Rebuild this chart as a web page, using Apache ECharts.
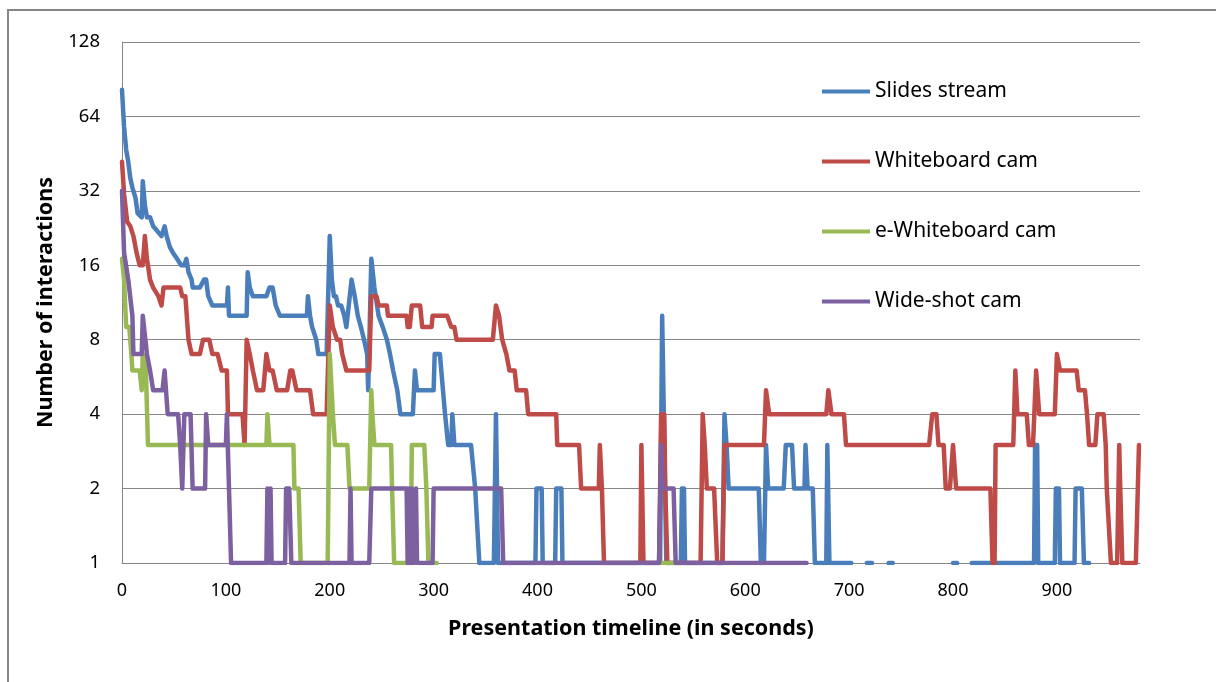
<!DOCTYPE html>
<html><head><meta charset="utf-8">
<script src="https://cdn.jsdelivr.net/npm/echarts@6/dist/echarts.min.js"></script>
<style>html,body{margin:0;padding:0;background:#fff}#c{width:1216px;height:682px}</style>
</head><body><div id="c"></div>
<script>
// Series names (legend order)
const seriesNames = ['Slides stream', 'Whiteboard cam', 'e-Whiteboard cam', 'Wide-shot cam'];
const seriesColors = ['#4A7EBB', '#BE4B48', '#98B954', '#7D60A0'];
// x-axis ticks (seconds) and y-axis ticks (log2)
const xTicks = [0, 100, 200, 300, 400, 500, 600, 700, 800, 900];
const yTicks = [1, 2, 4, 8, 16, 32, 64, 128];

// [time in seconds, number of interactions]; null = no interactions (gap on log scale)
const slidesStream = [
[0,82],[2,58],[4,47],[6,42],[8,36],[10,33],[13,30],[15,26],[19,25],[20,35],[22,28],[24,25],[27,25],[30,23],[34,22],[38,21],[41,23],[43,21],[46,19],[49,18],[53,17],[57,16],[60,16],[62,17],[64,15],[67,14],[68,13],[75,13],[79,14],[81,14],[83,12],[87,11],[101,11],[102,13],[103,10],[120,10],[121,15],[123,13],[126,12],[139,12],[142,13],[145,13],[148,11],[152,10],[178,10],[179,12],[181,10],[183,9],[187,8],[189,7],[197,7],[200,21],[202,14],[204,12],[206,12],[208,11],[211,11],[214,10],[216,9],[221,14],[224,12],[227,10],[230,9],[233,8],[236,7],[237,5],[240,17],[243,13],[247,10],[251,9],[255,8],[258,7],[261,6],[265,5],[268,4],[280,4],[282,6],[284,5],[300,5],[301,7],[306,7],[309,5],[311,4],[314,3],[317,3],[318,4],[320,3],[336,3],[340,2],[344,1],[358,1],[360,4],[362,1],[398,1],[399,2],[404,2],[405,1],[417,1],[418,2],[423,2],[424,1],[518,1],[520,10],[524,1],[538,1],[539,2],[541,2],[542,1],[578,1],[580,4],[582,3],[584,2],[613,2],[615,1],[618,1],[620,3],[622,2],[637,2],[639,3],[645,3],[647,2],[657,2],[658,3],[660,2],[665,2],[667,1],[678,1],[679,3],[681,1],[702,1],[703,null],[717,1],[722,1],[723,null],[738,1],[742,1],[743,null],[800,1],[804,1],[805,null],[818,1],[878,1],[879,3],[881,3],[882,1],[898,1],[899,2],[902,2],[903,1],[917,1],[918,2],[924,2],[926,1],[931,1]
];
const whiteboardCam = [
[0,42],[2,31],[5,24],[8,23],[11,21],[14,18],[17,16],[20,16],[22,21],[24,17],[25,16],[27,14],[30,13],[35,12],[38,11],[40,13],[43,13],[56,13],[58,12],[61,12],[64,8],[67,7],[75,7],[78,8],[84,8],[87,7],[92,7],[96,6],[101,6],[102,4],[116,4],[118,3],[120,8],[123,7],[126,6],[130,5],[136,5],[139,7],[142,6],[145,6],[149,5],[159,5],[162,6],[164,6],[168,5],[181,5],[184,4],[197,4],[200,11],[203,9],[207,8],[210,8],[212,7],[216,6],[238,6],[240,12],[245,12],[247,11],[255,11],[256,10],[274,10],[275,9],[277,9],[279,11],[287,11],[289,9],[298,9],[299,10],[313,10],[317,9],[320,9],[322,8],[357,8],[360,11],[363,10],[366,8],[370,7],[373,6],[378,6],[380,5],[389,5],[391,4],[418,4],[419,3],[440,3],[442,2],[459,2],[460,3],[462,2],[464,1],[499,1],[500,3],[502,1],[517,1],[519,4],[522,4],[523,2],[525,1],[557,1],[559,4],[561,3],[563,2],[570,2],[573,1],[578,1],[580,3],[618,3],[620,5],[623,4],[678,4],[680,5],[683,4],[695,4],[697,3],[777,3],[780,4],[784,4],[786,3],[791,3],[793,2],[797,2],[800,3],[803,2],[836,2],[838,1],[840,1],[841,3],[858,3],[860,6],[862,4],[871,4],[873,3],[877,3],[880,6],[883,4],[898,4],[900,7],[903,6],[919,6],[921,5],[927,5],[929,4],[931,3],[937,3],[939,4],[945,4],[947,3],[948,2],[952,1],[958,1],[960,3],[961,2],[963,1],[976,1],[979,3]
];
const eWhiteboardCam = [
[0,17],[2,14],[4,9],[7,9],[9,7],[10,6],[17,6],[19,5],[20,7],[23,6],[25,3],[139,3],[140,4],[142,3],[165,3],[166,2],[170,2],[172,1],[198,1],[200,7],[203,4],[205,3],[217,3],[219,2],[238,2],[240,5],[241,4],[243,3],[259,3],[260,2],[262,1],[278,1],[279,3],[291,3],[293,2],[295,1],[303,1],[304,null],[520,1],[530,1]
];
const wideShotCam = [
[0,32],[2,18],[6,14],[10,10],[11,7],[13,7],[19,7],[20,10],[24,7],[27,6],[30,5],[34,5],[39,5],[41,6],[44,4],[54,4],[56,3],[58,2],[60,4],[66,4],[68,2],[80,2],[81,4],[83,3],[100,3],[101,4],[103,2],[105,1],[139,1],[140,2],[141,1],[143,2],[144,1],[157,1],[158,2],[161,2],[163,1],[219,1],[220,2],[221,1],[238,1],[240,2],[274,2],[275,1],[276,2],[278,1],[279,2],[281,1],[283,2],[284,1],[299,1],[300,2],[365,2],[367,1],[517,1],[519,3],[521,2],[531,2],[533,1],[659,1]
];

const allData = [slidesStream, whiteboardCam, eWhiteboardCam, wideShotCam];
const toData = arr => arr.map(p => [p[0], p[1] === null ? '-' : p[1]]);
const FONT = 'Noto Sans';

const chart = echarts.init(document.getElementById('c'), null, {renderer: 'canvas'});
chart.setOption({
  animation: false,
  backgroundColor: '#fff',
  textStyle: {fontFamily: FONT},
  graphic: [{
    type: 'rect', silent: true, z: 100,
    shape: {x: 8, y: 10, width: 1400, height: 900},
    style: {fill: null, stroke: '#878787', lineWidth: 2}
  }],
  grid: {left: 122, right: 76, top: 42, bottom: 119},
  legend: {
    orient: 'vertical', left: 817, top: 76,
    itemWidth: 48, itemHeight: 4, itemGap: 49, icon: 'rect',
    textStyle: {fontSize: 21, color: '#000', lineHeight: 21, fontFamily: FONT},
    data: seriesNames
  },
  xAxis: {
    type: 'value', min: xTicks[0], max: 980, interval: 100,
    axisLine: {lineStyle: {color: '#868686', width: 1}},
    axisTick: {show: false},
    splitLine: {show: false},
    axisLabel: {fontSize: 18, color: '#000', margin: 19, showMaxLabel: false,
      formatter: v => xTicks.indexOf(v) >= 0 ? String(v) : ''},
    name: 'Presentation timeline (in seconds)', nameLocation: 'middle', nameGap: 55,
    nameTextStyle: {fontSize: 21.5, fontWeight: 'bold', color: '#000', fontFamily: FONT}
  },
  yAxis: {
    type: 'log', logBase: 2, min: yTicks[0], max: yTicks[yTicks.length - 1],
    axisLine: {show: true, lineStyle: {color: '#868686', width: 1}},
    axisTick: {show: false},
    splitLine: {show: true, lineStyle: {color: '#868686', width: 1}},
    axisLabel: {fontSize: 18.5, color: '#000', margin: 22, formatter: v => String(Math.round(v))},
    name: 'Number of interactions', nameLocation: 'middle', nameGap: 63,
    nameTextStyle: {fontSize: 21.5, fontWeight: 'bold', color: '#000', fontFamily: FONT}
  },
  series: allData.map((d, i) => ({
    name: seriesNames[i], type: 'line', data: toData(d),
    showSymbol: false, connectNulls: false, color: seriesColors[i],
    lineStyle: {width: 4.5, color: seriesColors[i], cap: 'round', join: 'round'}
  }))
});
</script></body></html>
